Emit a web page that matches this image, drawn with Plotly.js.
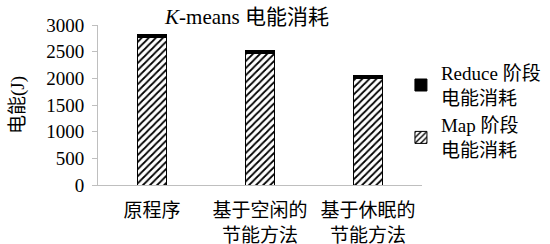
<!DOCTYPE html>
<html>
<head>
<meta charset="utf-8">
<script src="https://cdn.plot.ly/plotly-3.0.1.min.js"></script>
<style>html,body{margin:0;padding:0;background:#fff;}#chart{width:550px;height:244px;}</style>
</head>
<body>
<div id="chart"></div>
<script>
const categories = ['原程序', '基于空闲的<br>节能方法', '基于休眠的<br>节能方法'];
const mapEnergy = [2760, 2470, 2000];
const reduceEnergy = [55, 60, 55];
const seriesNames = ['Map 阶段<br>电能消耗', 'Reduce 阶段<br>电能消耗'];
const yTicks = [0, 500, 1000, 1500, 2000, 2500, 3000];

const FONT = '"Liberation Serif", "Times New Roman", "Noto Sans CJK SC", serif';
const FS = 19;

const traces = [
  {
    type: 'bar', name: seriesNames[0], x: categories, y: mapEnergy,
    marker: {
      color: '#ffffff',
      pattern: {shape: '/', fgcolor: '#000000', bgcolor: '#ffffff', size: 5, solidity: 0.35},
      line: {color: '#000000', width: 1}
    }
  },
  {
    type: 'bar', name: seriesNames[1], x: categories, y: reduceEnergy,
    marker: {color: '#000000', line: {color: '#000000', width: 1}}
  }
];

const layout = {
  width: 550, height: 244,
  margin: {l: 98, r: 128, t: 25, b: 59, autoexpand: false},
  paper_bgcolor: '#ffffff', plot_bgcolor: '#ffffff',
  barmode: 'stack', bargap: 0.73,
  font: {family: FONT, size: FS, color: '#000000'},
  title: {
    text: '<i>K</i>-means 电能消耗',
    font: {family: FONT, size: 21, color: '#000000'},
    x: 0.46, xref: 'paper', xanchor: 'center', y: 0.93, yref: 'container', yanchor: 'middle'
  },
  xaxis: {
    type: 'category', showgrid: false, zeroline: false,
    showline: true, linecolor: '#bfbfbf', linewidth: 1,
    ticks: '', tickangle: 0, ticklabelstandoff: 8, automargin: false,
    tickfont: {family: FONT, size: FS, color: '#000000'}
  },
  yaxis: {
    range: [0, 3000], tickvals: yTicks, showgrid: false, zeroline: false,
    showline: true, linecolor: '#bfbfbf', linewidth: 1, automargin: false,
    ticks: 'outside', ticklen: 5, tickcolor: '#bfbfbf', ticklabelstandoff: 4,
    tickfont: {family: FONT, size: FS, color: '#000000'},
    title: {text: '电能(J)', font: {family: FONT, size: FS, color: '#000000'}, standoff: 16}
  },
  legend: {
    x: 0.935, xanchor: 'left', y: 0.82, yanchor: 'top',
    traceorder: 'reversed', font: {family: FONT, size: FS, color: '#000000'},
    itemwidth: 30, tracegroupgap: 0, bgcolor: 'rgba(0,0,0,0)'
  },
  showlegend: true
};

Plotly.newPlot('chart', traces, layout, {displayModeBar: false, staticPlot: true});
</script>
</body>
</html>
